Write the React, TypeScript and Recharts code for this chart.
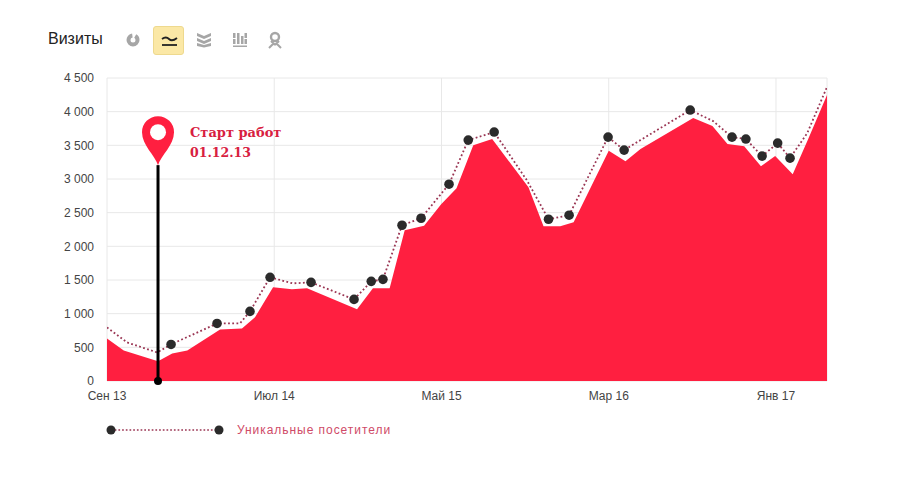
import { Area, CartesianGrid, ComposedChart, Line, ReferenceDot, ReferenceLine, XAxis, YAxis } from 'recharts';

// x is in months since Sep 13, the vertices do not sit on whole months
const visitMonths = [0, 1, 3.05, 3.9, 4.8, 6.76, 8.07, 8.85, 9.93, 11.06, 11.96, 14.95, 15.9, 16.9, 17.8, 18.96, 19.98, 20.9, 21.9, 23.03, 25.2, 26.1, 27.1, 27.9, 30, 31, 31.9, 35.05, 36.2, 37.1, 38.1, 39.1, 39.95, 41, 41.9, 43.05];
const visits = [632, 454, 295, 409, 454, 766, 781, 945, 1391, 1361, 1376, 1064, 1376, 1376, 2239, 2306, 2626, 2864, 3503, 3593, 2879, 2298, 2298, 2358, 3421, 3265, 3444, 3905, 3786, 3518, 3488, 3191, 3340, 3072, 3578, 4247];

const uniqueMonths = [0, 1.2, 3, 3.83, 6.58, 7.95, 8.55, 9.75, 11.1, 12.2, 14.77, 15.8, 16.5, 17.64, 18.78, 20.45, 21.6, 23.15, 25.1, 26.4, 27.63, 29.96, 30.92, 31.9, 34.87, 36.24, 37.37, 38.2, 39.17, 40.1, 40.84, 41.87, 43.05];
const uniques = [796, 573, 424, 543, 855, 855, 1034, 1540, 1450, 1465, 1212, 1480, 1510, 2313, 2417, 2923, 3578, 3697, 2983, 2402, 2462, 3622, 3429, 3578, 4024, 3860, 3622, 3593, 3340, 3533, 3310, 3682, 4366];
const markedMonths = [3.83, 6.58, 8.55, 9.75, 12.2, 14.77, 15.8, 16.5, 17.64, 18.78, 20.45, 21.6, 23.15, 26.4, 27.63, 29.96, 30.92, 34.87, 37.37, 38.2, 39.17, 40.1, 40.84];

const tickMonths = [0, 10, 20, 30, 40];
const tickLabels = ['Сен 13', 'Июл 14', 'Май 15', 'Мар 16', 'Янв 17'];
const yTicks = [0, 500, 1000, 1500, 2000, 2500, 3000, 3500, 4000, 4500];
const gridMonths = [0, 10, 20, 30, 40, 43.05];

const startMonth = 3.05;
const pinTipValue = 3206;
const startLabel = ['Старт работ', '01.12.13'];
const legendLabel = 'Уникальные посетители';

const visitData = visitMonths.map((month, i) => ({ month, visits: visits[i] }));
const uniqueData = uniqueMonths.map((month, i) => ({ month, uniques: uniques[i] }));

const RED = '#ff1f40';
const DOTTED = '#9a3553';
const font = '"Liberation Sans", Arial, sans-serif';

function MarkerDot(props: any) {
  const { cx, cy, payload } = props;
  if (!markedMonths.includes(payload.month)) return <g key={payload.month} />;
  return <circle key={payload.month} cx={cx} cy={cy} r={4.8} fill="#2b2b2b" />;
}

function StartPin({ cx, cy }: any) {
  const labelFont = '"DejaVu Serif", serif';
  return (
    <g>
      <path
        d={`M${cx} ${cy} C${cx - 3} ${cy - 10} ${cx - 16} ${cy - 20} ${cx - 16} ${cy - 33} A16 16 0 1 1 ${cx + 16} ${cy - 33} C${cx + 16} ${cy - 20} ${cx + 3} ${cy - 10} ${cx} ${cy}Z`}
        fill={RED}
      />
      <circle cx={cx} cy={cy - 33} r={8} fill="#fff" />
      <text x={cx + 32} y={cy - 28} fontFamily={labelFont} fontWeight="bold" fontSize={13} fill="#d8203f">
        {startLabel[0]}
      </text>
      <text x={cx + 32} y={cy - 8} fontFamily={labelFont} fontWeight="bold" fontSize={12.5} fill="#d8203f">
        {startLabel[1]}
      </text>
    </g>
  );
}

function Header() {
  const grey = '#a6a6a6';
  return (
    <div style={{ position: 'absolute', left: 0, top: 0, width: 900, height: 70 }}>
      <div style={{ position: 'absolute', left: 48, top: 30, fontFamily: font, fontSize: 16, color: '#222' }}>Визиты</div>
      <div style={{ position: 'absolute', left: 153, top: 26, width: 29, height: 27, background: '#fbe8a6', border: '1px solid #eed98e', borderRadius: 3 }} />
      <svg width={900} height={70} style={{ position: 'absolute', left: 0, top: 0 }}>
        <circle cx={133} cy={40} r={4.5} fill="none" stroke={grey} strokeWidth={4} strokeDasharray="20 3" />
        <path d="M162 39 Q166 36 169 39 T177 38" fill="none" stroke="#222" strokeWidth={1.8} />
        <path d="M162 45H177" stroke="#222" strokeWidth={1.8} />
        <path d="M197 33 L204 36 L211 33 V36 L204 39 L197 36Z M197 38 L204 41 L211 38 V41 L204 44 L197 41Z M197 43 L204 45 L211 43 V46 L204 47.5 L197 46Z" fill={grey} />
        <path d="M233 33h2.5v5h-2.5z M233 39h2.5v5h-2.5z M237 33h2.5v11h-2.5z M241 36h2.5v8h-2.5z M244.5 33h2.5v5h-2.5z M244.5 39h2.5v5h-2.5z M233 45.5h14v1.5h-14z" fill={grey} />
        <circle cx={275} cy={37} r={4} fill="none" stroke={grey} strokeWidth={2.4} />
        <path d="M275 45 L271 41 M275 45 L279 41 M269 48 L273 44 M281 48 L277 44" stroke={grey} strokeWidth={2} />
      </svg>
    </div>
  );
}

function LegendRow() {
  return (
    <svg width={900} height={30} style={{ position: 'absolute', left: 0, top: 415 }}>
      <line x1={111} y1={15} x2={219} y2={15} stroke={DOTTED} strokeWidth={1.7} strokeDasharray="1.7 2" />
      <circle cx={111} cy={15} r={4.5} fill="#2b2b2b" />
      <circle cx={219} cy={15} r={4.5} fill="#2b2b2b" />
      <text x={237} y={19} fontFamily={font} fontSize={12} letterSpacing={0.95} fill="#cf4a68">
        {legendLabel}
      </text>
    </svg>
  );
}

export default function App() {
  return (
    <div style={{ position: 'absolute', left: 0, top: 0, width: 900, height: 488, background: '#fff', overflow: 'hidden' }}>
      <Header />
      <ComposedChart width={900} height={488} margin={{ top: 78, right: 73, bottom: 77, left: 47 }}>
        <CartesianGrid stroke="#e8e8e8" horizontalValues={yTicks} verticalValues={gridMonths} />
        <XAxis
          dataKey="month"
          type="number"
          domain={[0, 43.05]}
          ticks={tickMonths}
          tickFormatter={(m: number) => tickLabels[tickMonths.indexOf(m)]}
          axisLine={false}
          tickLine={false}
          height={30}
          tickMargin={4}
          tick={{ fontFamily: font, fontSize: 12, fill: '#444' }}
          allowDataOverflow
        />
        <YAxis
          type="number"
          domain={[0, 4500]}
          ticks={yTicks}
          tickFormatter={(v: number) => String(v).replace(/\B(?=(\d{3})+$)/, ' ')}
          axisLine={false}
          tickLine={false}
          width={60}
          tickMargin={7}
          tick={{ fontFamily: font, fontSize: 12, fill: '#444' }}
        />
        <Area data={visitData} dataKey="visits" type="linear" fill={RED} fillOpacity={1} stroke="none" isAnimationActive={false} />
        <Line data={uniqueData} dataKey="uniques" type="linear" stroke={DOTTED} strokeWidth={1.8} strokeDasharray="1.8 2.4" dot={MarkerDot} activeDot={false} isAnimationActive={false} />
        <ReferenceLine segment={[{ x: startMonth, y: 0 }, { x: startMonth, y: pinTipValue }]} stroke="#000" strokeWidth={3} />
        <ReferenceDot x={startMonth} y={0} r={4} fill="#000" stroke="none" ifOverflow="visible" />
        <ReferenceDot x={startMonth} y={pinTipValue} shape={StartPin} ifOverflow="visible" />
      </ComposedChart>
      <LegendRow />
    </div>
  );
}
